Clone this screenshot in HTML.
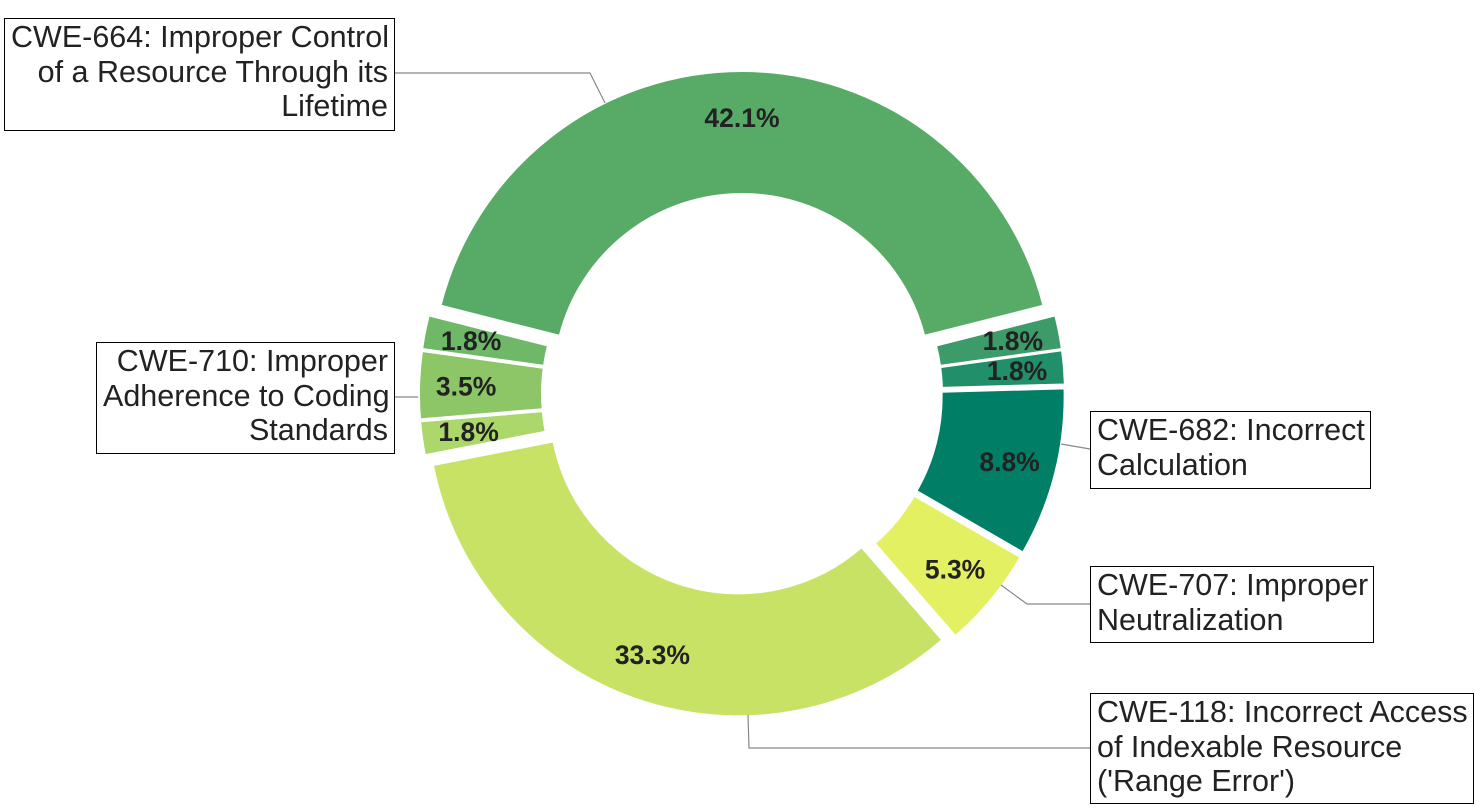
<!DOCTYPE html>
<html><head><meta charset="utf-8"><style>
body{margin:0;background:#fff;width:1476px;height:808px;overflow:hidden;font-family:"Liberation Sans",sans-serif}
.box{position:absolute;border:1px solid #000;background:#fff;font-size:30.5px;line-height:34.5px;color:#222;padding:1px 6px;box-sizing:border-box;white-space:nowrap}
</style></head><body>
<svg id="chart" width="1476" height="808" style="position:absolute;left:0;top:0">
<g id="slices"></g>
<g id="labels"></g>
<g fill="none" stroke="#888" stroke-width="1.2">
<polyline points="394,73 590,73 605,103"/>
<polyline points="394,397 418,397"/>
<polyline points="1061,444 1090,449"/>
<polyline points="1001,585 1027,604 1090,604"/>
<polyline points="748,715 749,748 1090,748"/>
</g>
</svg>
<div class="box" style="left:4px;top:18px;width:391px;height:113px;text-align:right">CWE-664: Improper Control<br>of a Resource Through its<br>Lifetime</div>
<div class="box" style="left:96px;top:342px;width:299px;height:112px;text-align:right">CWE-710: Improper<br>Adherence to Coding<br>Standards</div>
<div class="box" style="left:1090px;top:411px;width:281px;height:78px">CWE-682: Incorrect<br>Calculation</div>
<div class="box" style="left:1090px;top:566px;width:284px;height:77px">CWE-707: Improper<br>Neutralization</div>
<div class="box" style="left:1090px;top:693px;width:384px;height:111px">CWE-118: Incorrect Access<br>of Indexable Resource<br>('Range Error')</div>
<script>
const sliceValues=[24,1,1,5,3,19,1,2,1];
const sliceLabels=["42.1%","1.8%","1.8%","8.8%","5.3%","33.3%","1.8%","3.5%","1.8%"];
const sliceColors=["#57ab67","#3d9b69","#21906a","#007f66","#e2f061","#c8e266","#acd76a","#8cc666","#6eb868"];
const cx=742,cy=394,R=311,r=188,pull=12;
const total=sliceValues.reduce((a,b)=>a+b,0);
const NS="http://www.w3.org/2000/svg";
const gS=document.getElementById('slices'),gL=document.getElementById('labels');
let a0=-Math.PI*sliceValues[0]/total;
function pt(a,rad,ox,oy){return [ox+rad*Math.sin(a),oy-rad*Math.cos(a)];}
sliceValues.forEach((v,i)=>{
  const a1=a0+2*Math.PI*v/total, mid=(a0+a1)/2;
  const ox=cx+pull*Math.sin(mid), oy=cy-pull*Math.cos(mid);
  const big=(a1-a0)>Math.PI?1:0;
  const p1=pt(a0,R,ox,oy),p2=pt(a1,R,ox,oy),p3=pt(a1,r,ox,oy),p4=pt(a0,r,ox,oy);
  const p=document.createElementNS(NS,'path');
  p.setAttribute('d',`M${p1}A${R},${R} 0 ${big} 1 ${p2}L${p3}A${r},${r} 0 ${big} 0 ${p4}Z`);
  p.setAttribute('fill',sliceColors[i]);p.setAttribute('stroke','#fff');p.setAttribute('stroke-width','2');
  
  
  gS.appendChild(p);
  const lp=pt(mid,264,ox,oy);
  const t=document.createElementNS(NS,'text');
  t.setAttribute('x',lp[0]);t.setAttribute('y',lp[1]+9);
  t.setAttribute('text-anchor','middle');t.setAttribute('font-size','26.5');t.setAttribute('font-weight','bold');t.setAttribute('fill','#222');
  t.textContent=sliceLabels[i];
  
  
  gL.appendChild(t);
  a0=a1;
});
</script>
</body></html>
